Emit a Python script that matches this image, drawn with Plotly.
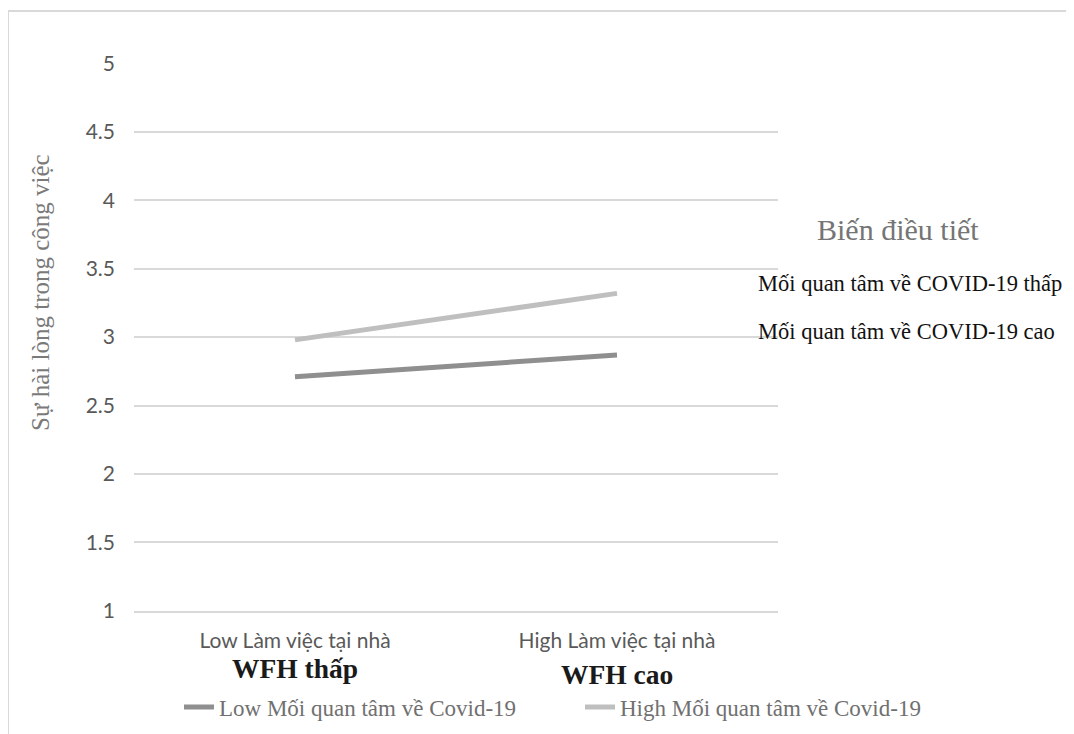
import plotly.graph_objects as go

categories = ["Low Làm việc tại nhà", "High Làm việc tại nhà"]
bold_labels = ["WFH thấp", "WFH cao"]
low_concern = [2.71, 2.87]
high_concern = [2.98, 3.32]
series_names = ["Low Mối quan tâm về Covid-19", "High Mối quan tâm về Covid-19"]
y_ticks = [1, 1.5, 2, 2.5, 3, 3.5, 4, 4.5, 5]

OFF = 8  # page body margin
W, H = 1074 - OFF, 734 - OFF
L, R, T, B = 134, 778, 63, 611  # plot area in reference pixels

def px(x):
    return (x - L) / (R - L)

def py(y):
    return (B - y) / (B - T)

serif = "Liberation Serif"
sans = "Lato"

fig = go.Figure()
fig.add_trace(go.Scatter(x=categories, y=low_concern, mode="lines", name=series_names[0],
                         line=dict(color="#8f8f8f", width=5), legend="legend"))
fig.add_trace(go.Scatter(x=categories, y=high_concern, mode="lines", name=series_names[1],
                         line=dict(color="#bfbfbf", width=5), legend="legend2"))

annotations = []
for cat, lab, yy in zip(categories, bold_labels, [668, 674]):
    annotations.append(dict(x=cat, xref="x", y=py(yy), yref="paper", text="<b>" + lab + "</b>",
                            showarrow=False, font=dict(family=serif, size=27.5, color="#1a1a1a"),
                            xanchor="center", yanchor="middle"))
annotations.append(dict(x=px(40), y=py(293), xref="paper", yref="paper", text="Sự hài lòng trong công việc",
                        textangle=-90, showarrow=False, font=dict(family=serif, size=25, color="#7a7a7a"),
                        xanchor="center", yanchor="middle"))
annotations.append(dict(x=px(898), y=py(229), xref="paper", yref="paper", text="Biến điều tiết",
                        showarrow=False, font=dict(family=serif, size=30, color="#757575"),
                        xanchor="center", yanchor="middle"))
annotations.append(dict(x=px(910), y=py(283), xref="paper", yref="paper", text="Mối quan tâm về COVID-19 thấp",
                        showarrow=False, font=dict(family=serif, size=22.5, color="#111111"),
                        xanchor="center", yanchor="middle"))
annotations.append(dict(x=px(907), y=py(331), xref="paper", yref="paper", text="Mối quan tâm về COVID-19 cao",
                        showarrow=False, font=dict(family=serif, size=22.5, color="#111111"),
                        xanchor="center", yanchor="middle"))

shapes = [
    dict(type="line", xref="paper", yref="paper", x0=px(8), x1=px(8), y0=py(11), y1=py(745),
         line=dict(color="#d9d9d9", width=2)),
    dict(type="line", xref="paper", yref="paper", x0=px(8), x1=px(1085), y0=py(11), y1=py(11),
         line=dict(color="#d9d9d9", width=2)),
]

legend_style = dict(orientation="h", xanchor="left", yanchor="middle",
                    font=dict(family=serif, size=23, color="#707070"),
                    bgcolor="rgba(0,0,0,0)", itemwidth=30)

fig.update_layout(
    width=W, height=H,
    margin=dict(l=L - OFF, r=1074 - R, t=T - OFF, b=734 - B, pad=0, autoexpand=False),
    paper_bgcolor="white", plot_bgcolor="white",
    showlegend=True,
    legend=dict(x=px(179), y=py(707), **legend_style),
    legend2=dict(x=px(580), y=py(707), **legend_style),
    xaxis=dict(type="category", range=[-0.5, 1.5], showgrid=False, showline=True,
               linecolor="#d9d9d9", linewidth=1.5, ticks="", ticklabelstandoff=10,
               tickfont=dict(family=sans, size=21, color="#595959"), zeroline=False),
    yaxis=dict(range=[0.998, 5.004], tickvals=y_ticks, ticktext=[f"{v:g}" for v in y_ticks],
               showgrid=True, gridcolor="#d9d9d9", gridwidth=1.5, showline=False,
               zeroline=False, ticks="", ticklabelstandoff=18,
               tickfont=dict(family=sans, size=21, color="#595959")),
    annotations=annotations,
    shapes=shapes,
)

fig.write_html("out.html")
